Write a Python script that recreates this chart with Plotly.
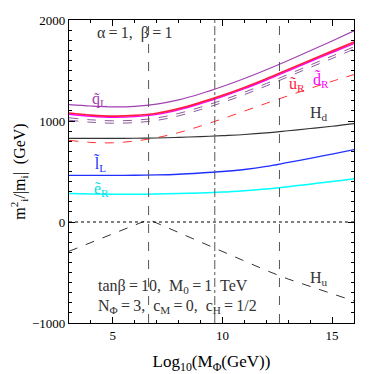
import plotly.graph_objects as go

# log10 of the messenger scale
x = [3, 4, 5, 6, 7, 8, 9, 10, 11, 12, 13, 14, 15, 16]

q_L = [1162, 1148, 1140, 1145, 1167, 1209, 1269, 1341, 1421, 1508, 1600, 1695, 1793, 1893]
u_R = [1079, 1059, 1049, 1055, 1077, 1122, 1184, 1254, 1332, 1418, 1510, 1602, 1692, 1781]
d_R = [1067, 1047, 1037, 1043, 1065, 1110, 1172, 1242, 1320, 1406, 1497, 1589, 1678, 1767]
dash_a = [1032, 1012, 1002, 1008, 1030, 1075, 1137, 1207, 1285, 1371, 1462, 1554, 1643, 1735]
dash_b = [1008, 988, 978, 984, 1006, 1051, 1113, 1183, 1261, 1347, 1438, 1530, 1619, 1712]
u_R_dash = [809, 788, 784, 802, 835, 885, 950, 1022, 1098, 1175, 1250, 1323, 1393, 1460]
H_d = [828, 828, 828, 829, 832, 838, 845, 855, 866, 882, 903, 925, 948, 974]
l_L = [462, 462, 462, 463, 466, 473, 485, 500, 520, 550, 590, 630, 673, 717]
e_R = [281, 277, 274, 274, 276, 281, 287, 296, 310, 327, 350, 375, 400, 428]

x_Hu = [3, 4, 5, 6, 6.63, 7, 8, 9, 10, 11, 12, 13, 14, 15, 16]
H_u = [-290, -205, -120, -35, 24, -10, -105, -200, -295, -390, -480, -565, -640, -710, -782]

vlines = [(6.63, "dash"), (9.65, "dashdot"), (12.6, "dash")]

serif = "Liberation Serif"
fig = go.Figure()

def add(xs, ys, color, width=1.1, dash="solid"):
    fig.add_trace(go.Scatter(x=xs, y=ys, mode="lines", line=dict(color=color, width=width, dash=dash, shape="spline"),
                             showlegend=False))

for xv, d in vlines:
    fig.add_vline(x=xv, line=dict(color="#555555", width=1, dash=d))
fig.add_hline(y=0, line=dict(color="black", width=1, dash="dot"))

add(x, dash_b, "#8a5a9a", 1, "dash")
add(x, dash_a, "#8a5a9a", 1, "dash")
add(x, u_R_dash, "#ff3030", 1, "dash")
add(x, d_R, "#ff00ff", 1.4)
add(x, u_R, "#ff2040", 1.7)
add(x, q_L, "#a040b0", 1.1)
add(x, H_d, "#333333", 1.1)
add(x, l_L, "#2030ff", 1.3)
add(x, e_R, "#00ffff", 1.5)
fig.add_trace(go.Scatter(x=x_Hu, y=H_u, mode="lines", line=dict(color="#333333", width=1, dash="dash"),
                         showlegend=False))

def label(xv, yv, text, color="#333333", size=16, anchor="center"):
    fig.add_annotation(x=xv, y=yv, text=text, showarrow=False, xanchor=anchor,
                       font=dict(family=serif, size=size, color=color))

eq = "\u2009=\u2009"
label(4.2, 1870, f"α{eq}1,  β{eq}1", anchor="left")
label(4.4, 1215, "q̃<sub>L</sub>", "#a040b0")
label(13.4, 1365, "ũ<sub>R</sub>", "#ff2040")
label(14.5, 1410, "d̃<sub>R</sub>", "#ff00ff")
label(14.4, 1070, "H<sub>d</sub>")
label(4.4, 570, "l̃<sub>L</sub>", "#2030ff")
label(4.5, 325, "ẽ<sub>R</sub>", "#00e0e0")
label(14.4, -560, "H<sub>u</sub>")
label(4.25, -640, f"tanβ{eq}10,  M<sub>0</sub>{eq}1  TeV", anchor="left")
label(4.25, -838, f"N<sub>Φ</sub>{eq}3,  c<sub>M</sub>{eq}0,  c<sub>H</sub>{eq}1/2", anchor="left")

axis_common = dict(showline=True, linecolor="black", linewidth=1.2, mirror="allticks", ticks="inside",
                   ticklen=6, tickcolor="black", showgrid=False, zeroline=False, automargin=False,
                   tickfont=dict(family=serif, size=13, color="black"))

fig.update_xaxes(range=[3, 16], tick0=0, dtick=5,
                 minor=dict(ticks="inside", dtick=1, ticklen=3, tickcolor="black"),
                 title=dict(text="Log<sub>10</sub>(M<sub>Φ</sub>(GeV))", font=dict(family=serif, size=17, color="black"),
                            standoff=13),
                 **axis_common)
fig.update_yaxes(range=[-1000, 2000], dtick=1000,
                 minor=dict(ticks="inside", dtick=100, ticklen=3, tickcolor="black"),
                 title=dict(text="m<sup>2</sup><sub>i</sub>/|m<sub>i</sub>|  (GeV)", font=dict(family=serif, size=16, color="black"),
                            standoff=10),
                 **axis_common)

# page body adds an 8px offset, so the figure is a bit smaller
fig.update_layout(width=366, height=366, margin=dict(l=61, r=20, t=12, b=51),
                  paper_bgcolor="white", plot_bgcolor="white")

fig.write_html("out.html")
